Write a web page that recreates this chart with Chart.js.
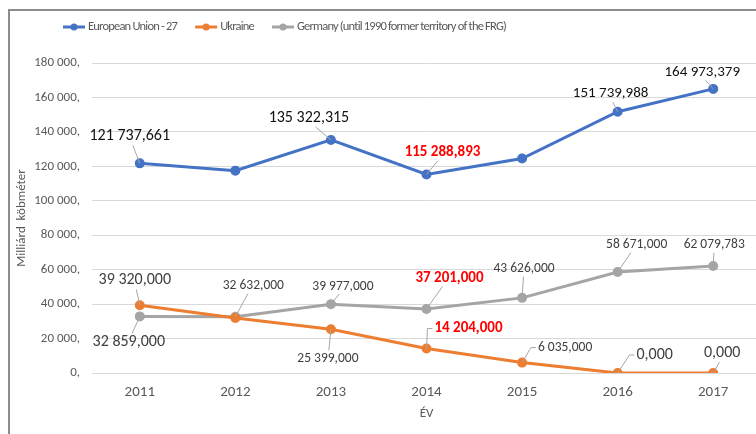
<!DOCTYPE html>
<html>
<head>
<meta charset="utf-8">
<script src="https://cdn.jsdelivr.net/npm/chart.js@4.4.1/dist/chart.umd.min.js"></script>
<style>
  html, body { margin: 0; padding: 0; background: #fff; overflow: hidden; }
  #wrap { position: relative; width: 756px; height: 434px; overflow: hidden; }
  #frame { position: absolute; left: 8px; top: 9px; width: 800px; height: 500px;
           border-left: 2px solid #8c8c8c; border-top: 2px solid #8c8c8c; }
  #box { position: absolute; left: 0; top: 0; width: 775px; height: 434px; }
</style>
</head>
<body>
<div id="wrap">
  <div id="frame"></div>
  <div id="box"><canvas id="chart"></canvas></div>
</div>
<script>
let years = ["2011", "2012", "2013", "2014", "2015", "2016", "2017"];
let euValues = [121737.661, 117500, 135322.315, 115288.893, 124500, 151739.988, 164973.379];
let ukraineValues = [39320, 32000, 25399, 14204, 6035, 0, 0];
let germanyValues = [32859, 32632, 39977, 37201, 43626, 58671, 62079.783];
let seriesNames = ["European Union - 27", "Ukraine", "Germany (until 1990 former territory of the FRG)"];
let yTicks = [0, 20000, 40000, 60000, 80000, 100000, 120000, 140000, 160000, 180000];

const FONT = "Carlito, Calibri, Lato, 'Liberation Sans', sans-serif";

// label placement relative to the point: [dx, dy, size, color, bold] or null = no label
const labelStyle = [
  [[-10, -27, 16, "#111", false], null, [-22, -22, 16, "#111", false], [16, -22, 15, "#ff0000", true],
   null, [-7, -18, 15, "#111", false], [-11, -17, 15, "#111", false]],
  [[-5, -25, 16, "#404040", false], null, [-3, 29, 13.5, "#404040", false], [42, -20, 15, "#ff0000", true],
   [43, -15, 13.5, "#404040", false], [37, -18, 16, "#404040", false], [9, -20, 16, "#404040", false]],
  [[-11, 26, 16, "#404040", false], [18, -31, 13.5, "#404040", false], [12, -18, 13.5, "#404040", false],
   [23, -31, 15, "#ff0000", true], [2, -29, 13.5, "#404040", false], [19, -27, 13.5, "#404040", false],
   [1, -21, 13.5, "#404040", false]]
];

function fmtValue(v) {
  let parts = v.toFixed(3).split(".");
  return parts[0].replace(/\B(?=(\d{3})+(?!\d))/g, " ") + "," + parts[1];
}
function fmtTick(v) {
  return String(v).replace(/\B(?=(\d{3})+(?!\d))/g, " ") + ",";
}

const dataLabels = {
  id: "dataLabels",
  afterDatasetsDraw(chart) {
    const ctx = chart.ctx;
    chart.data.datasets.forEach((ds, di) => {
      const meta = chart.getDatasetMeta(di);
      meta.data.forEach((pt, i) => {
        const st = labelStyle[di][i];
        if (!st) return;
        const [dx, dy, size, color, bold] = st;
        const text = fmtValue(ds.data[i]);
        ctx.save();
        ctx.font = (bold ? "bold " : "") + size + "px " + FONT;
        const w = ctx.measureText(text).width;
        const h = size;
        const cx = pt.x + dx, cy = pt.y + dy;
        // leader line
        const l = cx - w / 2 - 2, r = cx + w / 2 + 2, t = cy - h / 2 - 1, b = cy + h / 2 + 1;
        let sx, sy;
        ctx.strokeStyle = "#a6a6a6";
        ctx.lineWidth = 1;
        ctx.beginPath();
        if (pt.x < l || pt.x > r) {
          sx = pt.x < l ? l : r;
          sy = cy;
          ctx.moveTo(sx, sy);
          sx += pt.x < l ? -5 : 5;
          ctx.lineTo(sx, sy);
        } else {
          sx = cx + (pt.x - cx) * 0.3;
          sy = pt.y > cy ? b : t;
          ctx.moveTo(sx, sy);
        }
        ctx.lineTo(pt.x, pt.y);
        ctx.stroke();
        ctx.fillStyle = color;
        ctx.textAlign = "center";
        ctx.textBaseline = "middle";
        ctx.fillText(text, cx, cy);
        ctx.restore();
      });
    });
  }
};

const customLegend = {
  id: "customLegend",
  afterDraw(chart) {
    const ctx = chart.ctx;
    let x = 63;
    const y = 27;
    ctx.save();
    ctx.font = "12.5px " + FONT;
    ctx.letterSpacing = "-0.8px";
    ctx.textBaseline = "middle";
    chart.data.datasets.forEach((ds) => {
      ctx.strokeStyle = ds.borderColor;
      ctx.lineWidth = 3;
      ctx.beginPath();
      ctx.moveTo(x, y);
      ctx.lineTo(x + 22, y);
      ctx.stroke();
      ctx.fillStyle = ds.borderColor;
      ctx.beginPath();
      ctx.arc(x + 11, y, 3.5, 0, Math.PI * 2);
      ctx.fill();
      ctx.fillStyle = "#595959";
      ctx.fillText(ds.label, x + 25, y);
      x += 25 + ctx.measureText(ds.label).width + 18;
    });
    ctx.restore();
  }
};

function makeSet(label, data, color) {
  return {
    label: label,
    data: data,
    borderColor: color,
    backgroundColor: color,
    borderWidth: 3,
    pointRadius: 3.5,
    pointHoverRadius: 3.5,
    lineTension: 0,
    fill: false
  };
}

new Chart("chart", {
  type: "line",
  data: {
    labels: years,
    datasets: [
      makeSet(seriesNames[0], euValues, "#4472c4"),
      makeSet(seriesNames[1], ukraineValues, "#ed7d31"),
      makeSet(seriesNames[2], germanyValues, "#a5a5a5")
    ]
  },
  options: {
    responsive: true,
    maintainAspectRatio: false,
    animation: false,
    events: [],
    layout: { padding: { top: 63, right: 14, left: 14, bottom: 12 } },
    plugins: { legend: { display: false }, tooltip: { enabled: false } },
    scales: {
      x: {
        offset: true,
        grid: { display: false, drawTicks: false },
        border: { display: false },
        ticks: { color: "#595959", font: { family: FONT, size: 15 }, padding: 10 },
        title: { display: true, text: "ÉV", color: "#595959", font: { family: FONT, size: 13 }, padding: { top: 4, bottom: 0 } },
        afterFit: (s) => { s.height = 49; }
      },
      y: {
        min: 0,
        max: 180000,
        afterBuildTicks: (s) => { s.ticks = yTicks.map((v) => ({ value: v })); },
        grid: { color: "#d9d9d9", lineWidth: 1, drawTicks: false },
        border: { display: false },
        ticks: { color: "#595959", font: { family: FONT, size: 13 }, padding: 12, callback: (v) => fmtTick(v) },
        title: { display: true, text: "Milliárd  köbméter", color: "#595959", font: { family: FONT, size: 13 }, padding: { top: 0, bottom: 4 } },
        afterFit: (s) => { s.width = 78; }
      }
    }
  },
  plugins: [dataLabels, customLegend]
});
</script>
</body>
</html>
